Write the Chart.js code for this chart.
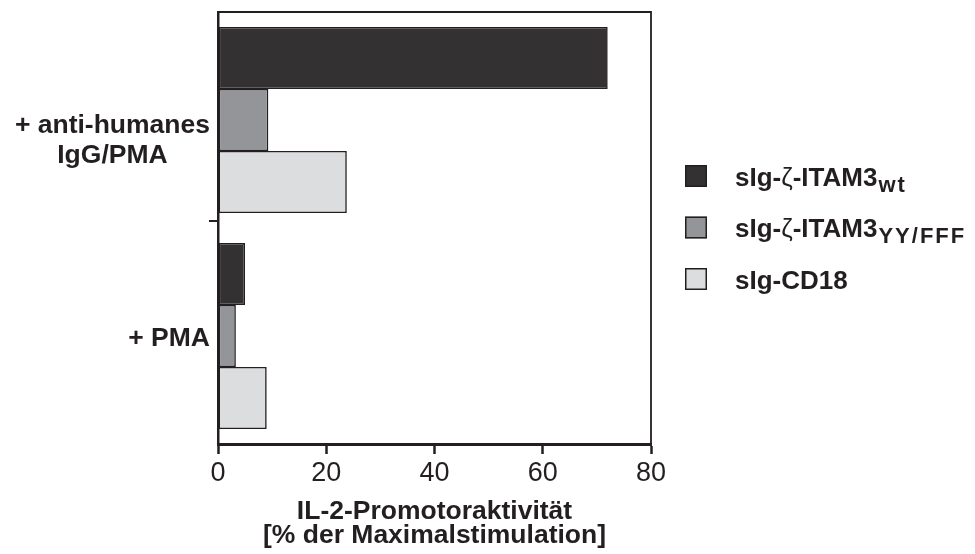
<!DOCTYPE html>
<html><head><meta charset="utf-8">
<script src="https://cdn.jsdelivr.net/npm/chart.js@4.4.0/dist/chart.umd.min.js"></script>
<style>html,body{margin:0;padding:0;background:#fff;}#wrap{position:relative;width:975px;height:554px;}</style>
</head><body><div id="wrap"><canvas id="c" width="975" height="554"></canvas></div>
<script>
// ---- data ----
const categories = [['+ anti-humanes', 'IgG/PMA'], ['+ PMA']];
const seriesNames = ['sIg-ζ-ITAM3wt', 'sIg-ζ-ITAM3YY/FFF', 'sIg-CD18'];
const legendMainParts = [['sIg-', 'ζ', '-ITAM3'], ['sIg-', 'ζ', '-ITAM3'], ['sIg-CD18']];
const legendSub = ['wt', 'YY/FFF', ''];
const itamWt = [72, 5.0];
const itamYYFFF = [9.3, 3.3];
const cd18 = [23.8, 9.0];
const xTicks = [0, 20, 40, 60, 80];
const xTitle = ['IL-2-Promotoraktivität', '[% der Maximalstimulation]'];

// ---- style ----
const FONT = '"Liberation Sans", Arial, Helvetica, sans-serif';
const INK = '#231f20';
const fills = ['#333132', '#949599', '#dcdddf'];

const yLabelPlugin = {
  id: 'yLabels',
  afterDraw(chart) {
    const {ctx, chartArea, scales: {y}} = chart;
    const drops = [21, 3];
    const lineH = 30;
    ctx.save();
    ctx.font = 'bold 26.5px ' + FONT;
    ctx.fillStyle = INK;
    ctx.textAlign = 'center';
    ctx.textBaseline = 'middle';
    categories.forEach((lines, i) => {
      const c = y.getPixelForValue(i);
      const widest = Math.max(...lines.map(l => ctx.measureText(l).width));
      const cx = chartArea.left - 8 - widest / 2;
      lines.forEach((l, j) => {
        ctx.fillText(l, cx, c + drops[i] + (j - (lines.length - 1) / 2) * lineH);
      });
    });
    // separator tick between categories
    const mid = (y.getPixelForValue(0) + y.getPixelForValue(1)) / 2 - 7;
    ctx.strokeStyle = INK;
    ctx.lineWidth = 2;
    ctx.beginPath();
    ctx.moveTo(chartArea.left - 9, mid);
    ctx.lineTo(chartArea.left, mid);
    ctx.stroke();
    // frame top & right
    ctx.lineWidth = 1.8;
    ctx.beginPath();
    ctx.moveTo(chartArea.left, chartArea.top);
    ctx.lineTo(chartArea.right, chartArea.top);
    ctx.lineTo(chartArea.right, chartArea.bottom);
    ctx.stroke();
    ctx.restore();
  }
};

const legendPlugin = {
  id: 'richLegend',
  afterDraw(chart) {
    const {ctx} = chart;
    const sqX = 685, sqTop = 165, sq = 22, gap = 51.5, textX = 735;
    ctx.save();
    chart.data.datasets.forEach((ds, i) => {
      const top = sqTop + i * gap;
      ctx.fillStyle = ds.backgroundColor;
      ctx.fillRect(sqX, top, sq, sq);
      ctx.strokeStyle = INK;
      ctx.lineWidth = 1.5;
      ctx.strokeRect(sqX + 0.75, top + 0.75, sq - 1.5, sq - 1.5);
      const base = top + 20.5;
      let x = textX;
      ctx.fillStyle = INK;
      ctx.textAlign = 'left';
      ctx.textBaseline = 'alphabetic';
      legendMainParts[i].forEach(p => {
        ctx.font = (p === 'ζ' ? '' : 'bold ') + '26px ' + FONT;
        ctx.fillText(p, x, base);
        x += ctx.measureText(p).width;
      });
      if (legendSub[i]) {
        ctx.font = 'bold 22px ' + FONT;
        ctx.letterSpacing = '2px';
        ctx.fillText(legendSub[i], x + 1, base + 6);
        ctx.letterSpacing = '0px';
      }
    });
    ctx.restore();
  }
};

new Chart(document.getElementById('c'), {
  type: 'bar',
  data: {
    labels: categories,
    datasets: [
      {label: seriesNames[0], data: itamWt, backgroundColor: fills[0]},
      {label: seriesNames[1], data: itamYYFFF, backgroundColor: fills[1]},
      {label: seriesNames[2], data: cd18, backgroundColor: fills[2]}
    ]
  },
  options: {
    indexAxis: 'y',
    responsive: false,
    animation: false,
    devicePixelRatio: 1,
    layout: {padding: {top: 12, right: 324, bottom: 0, left: 0}},
    datasets: {bar: {categoryPercentage: 0.861, barPercentage: 1.0, borderColor: INK, borderWidth: 1.6, borderSkipped: false}},
    plugins: {legend: {display: false}, tooltip: {enabled: false}},
    scales: {
      x: {
        type: 'linear', min: 0, max: 80,
        afterBuildTicks: s => { s.ticks = xTicks.map(v => ({value: v})); },
        afterFit: s => { s.height = 110; },
        grid: {drawOnChartArea: false, tickLength: 10, tickWidth: 2.5, tickColor: INK},
        border: {color: INK, width: 3},
        ticks: {font: {family: FONT, size: 27}, color: INK, padding: 3, maxRotation: 0},
        title: {display: true, text: xTitle, color: INK, font: {family: FONT, size: 26.5, weight: 'bold', lineHeight: 0.92}, padding: {top: 0, bottom: 6}}
      },
      y: {
        type: 'category',
        afterFit: s => { s.width = 218; },
        grid: {display: false},
        border: {color: INK, width: 2.5},
        ticks: {display: false}
      }
    }
  },
  plugins: [yLabelPlugin, legendPlugin]
});
</script></body></html>
